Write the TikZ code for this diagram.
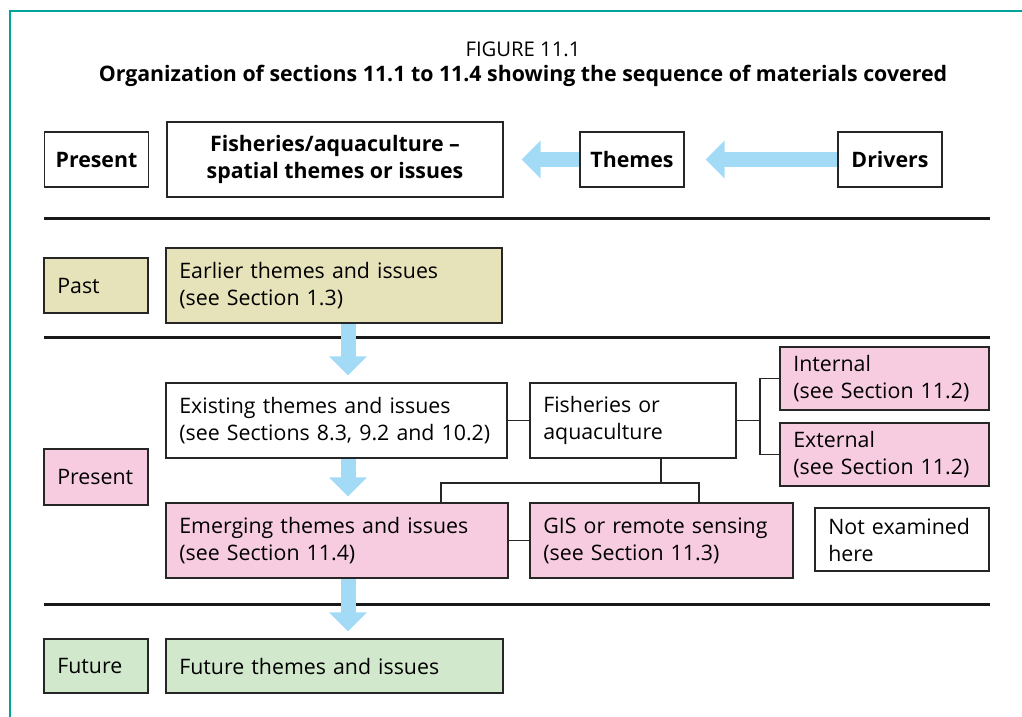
\documentclass[tikz,border=0pt]{standalone}
\usepackage{fontspec}
\setmainfont{Open Sans}
\usepackage{tikz}
\usetikzlibrary{arrows.meta}
\usetikzlibrary{positioning}

\definecolor{pastfill}{RGB}{230,226,186}
\definecolor{presfill}{RGB}{247,204,224}
\definecolor{futfill}{RGB}{210,232,205}
\definecolor{flowblue}{RGB}{163,219,246}
\definecolor{frameteal}{RGB}{0,163,152}

\begin{document}
\begin{tikzpicture}[x=0.75pt, y=-0.75pt,
        every node/.style={font=\fontsize{16}{20.25}\selectfont},
        head/.style={rectangle, draw=black!85, line width=0.9pt, minimum width=78pt, minimum height=41.25pt, align=center, font=\fontsize{16}{20.25}\selectfont\bfseries},
        era/.style={rectangle, draw=black!85, line width=0.9pt, inner xsep=10pt, text width=58pt, minimum height=41.25pt, align=left},
        item/.style={rectangle, draw=black!85, line width=0.9pt, inner xsep=10pt, minimum height=56.25pt, align=left},
        side/.style={rectangle, draw=black!85, line width=0.9pt, inner xsep=10pt, minimum height=47.25pt, align=left},
        flow/.style={draw=flowblue, line width=11.25pt, -{Triangle[width=27.75pt, length=14.25pt]}},
        rule/.style={draw=black!90, line width=2.25pt},
        link/.style={draw=black!85, line width=0.9pt}
      ]
        \useasboundingbox (0,0) rectangle (1022,717);
        \draw[frameteal, line width=1.8pt] (1022,11) -- (10,11) -- (10,717);

        \node (figno)   at (523,49)  [font=\fontsize{15.2}{18}\selectfont] {FIGURE 11.1};
        \node (caption) at (523,76)  [font=\fontsize{16}{18}\selectfont\bfseries] {Organization of sections 11.1 to 11.4 showing the sequence of materials covered};

        % top row
        \node[head]  (now)     at (96.5,159.5)                       {Present};
        \node[head]  (fishsp)  at (335,159.5)  [minimum width=252pt, minimum height=56.25pt] {Fisheries/aquaculture --\\spatial themes or issues};
        \node[head]  (themes)  at (632,159.5)                        {Themes};
        \node[head]  (drivers) at (890,159.5)                        {Drivers};

        % eras
        \node[era, fill=pastfill]  (past)    at (96,285.5)           {Past};
        \node[era, fill=presfill]  (present) at (96,477)  [minimum height=42pt] {Present};
        \node[era, fill=futfill]   (future)  at (96,666)  [minimum height=40.5pt] {Future};

        \node[item, fill=pastfill]  (earlier)   at (334,285.5)  [text width=232pt]    {Earlier themes and issues\\(see Section 1.3)};
        \node[item]                 (existing)  at (336.5,420.5) [text width=235.75pt] {Existing themes and issues\\(see Sections 8.3, 9.2 and 10.2)};
        \node[item]                 (fishor)    at (633,420.5)  [text width=134.5pt]  {Fisheries or\\aquaculture};
        \node[side, fill=presfill]  (internal)  at (884.5,378.5) [text width=136.75pt] {Internal\\(see Section 11.2)};
        \node[side, fill=presfill]  (external)  at (884.5,454.5) [text width=136.75pt] {External\\(see Section 11.2)};
        \node[item, fill=presfill]  (emerging)  at (337,540.5)  [text width=236.5pt]  {Emerging themes and issues\\(see Section 11.4)};
        \node[item, fill=presfill]  (gis)       at (661.5,540.5) [text width=177.25pt] {GIS or remote sensing\\(see Section 11.3)};
        \node[side]                 (notexam)   at (902,539.5)  [text width=110.5pt]  {Not examined\\here};
        \node[item, fill=futfill]   (futthemes) at (334.5,666)  [text width=232.75pt, minimum height=40.5pt] {Future themes and issues};

        \draw[rule] (44,218) -- (990,218);
        \draw[rule] (44,337) -- (990,337);
        \draw[rule] (44,604) -- (990,604);

        % tree links
        \coordinate (jn)    at (760,420.5);
        \coordinate (split) at (661,483);
        \coordinate (lft)   at (441,483);
        \coordinate (rgt)   at (699,483);
        \draw[link] (existing.east) -- (fishor.west);
        \draw[link] (fishor.east) -- (jn);
        \draw[link] (internal.west) -| (jn) |- (external.west);
        \draw[link] (fishor.south -| split) -- (split);
        \draw[link] (lft |- emerging.north) |- (rgt) -- (rgt |- gis.north);
        \draw[link] (emerging.east) -- (gis.west);

        % blue arrows
        \coordinate (axis) at (348,0);
        \draw[flow, shorten >=13.5pt] (themes.west) -- (fishsp.east);
        \draw[flow, shorten >=15.75pt] (drivers.west) -- (themes.east);
        \draw[flow, shorten >=5.25pt] (earlier.south -| axis) -- (existing.north -| axis);
        \draw[flow, shorten >=4.5pt] (existing.south -| axis) -- (emerging.north -| axis);
        \draw[flow, shorten >=5.25pt] (emerging.south -| axis) -- (futthemes.north -| axis);
      \end{tikzpicture}
\end{document}
